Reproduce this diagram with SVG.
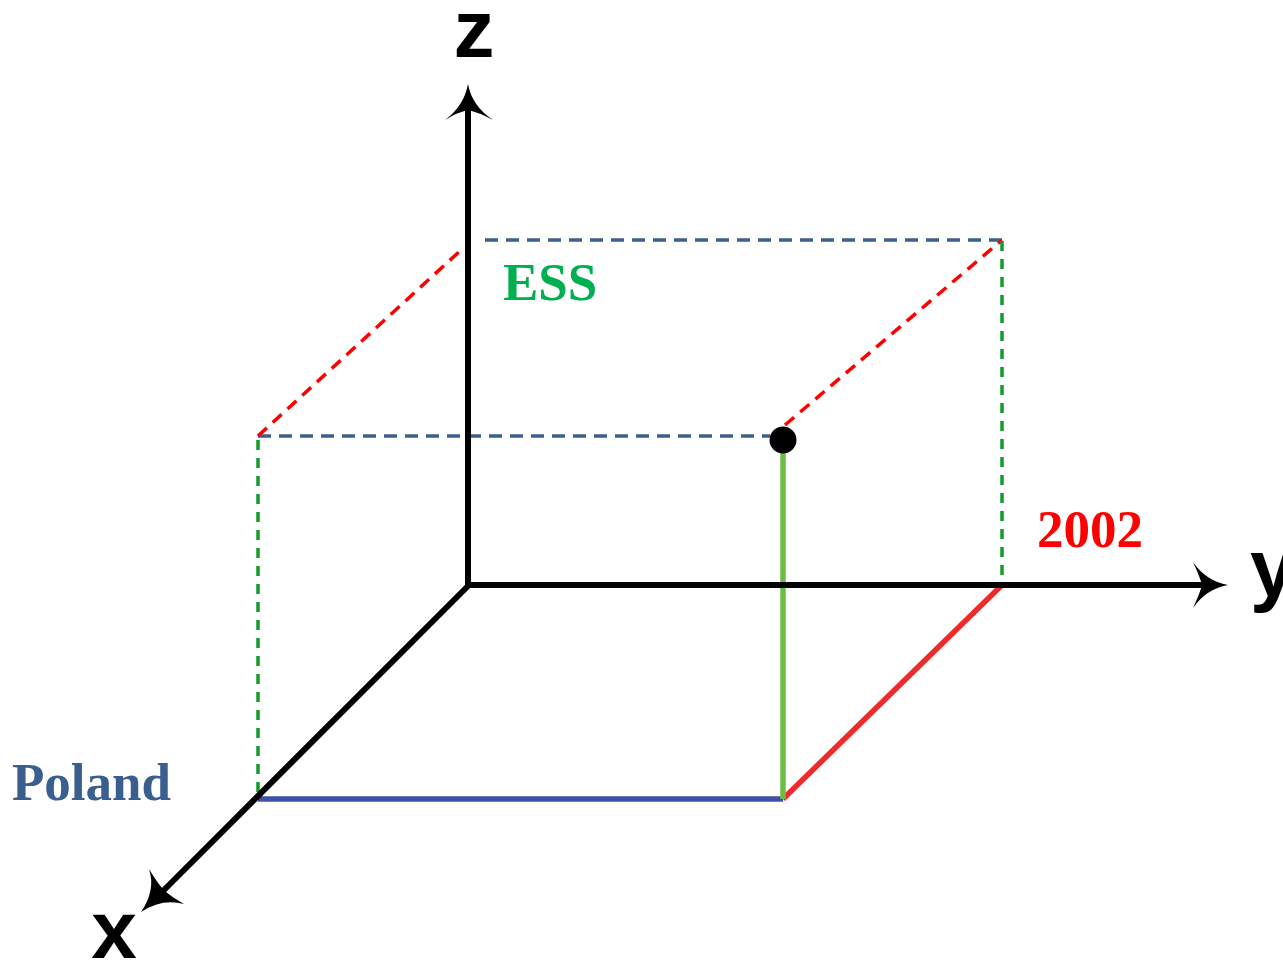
<svg xmlns="http://www.w3.org/2000/svg" width="1283" height="963" viewBox="0 0 1283 963">
<style>
.axis{stroke:#000;stroke-width:6;fill:none}
.ah{fill:#000}
.dblue{stroke:#3d5f8c;stroke-width:3.5;stroke-dasharray:13 8;fill:none}
.dred{stroke:#ff0000;stroke-width:3.5;stroke-dasharray:12 8;fill:none}
.dgreen{stroke:#119c2b;stroke-width:3.5;stroke-dasharray:10 8;fill:none}
.lbl{font-family:"Liberation Sans",Arial,sans-serif;font-weight:bold;font-size:82px;fill:#000}
.val{font-family:"Liberation Serif","Times New Roman",serif;font-weight:bold;font-size:53px}
</style>
<rect width="1283" height="963" fill="#fff"/>
<g id="connectors">
<line class="dblue" x1="485" y1="240" x2="1002" y2="240"/>
<line class="dblue" x1="258" y1="436" x2="770" y2="436"/>
<line class="dred" x1="258" y1="436" x2="460" y2="251"/>
<line class="dred" x1="785" y1="425" x2="1002" y2="240"/>
<line class="dgreen" x1="258" y1="440" x2="258" y2="797"/>
<line class="dgreen" x1="1002" y1="241" x2="1002" y2="584"/>
<line stroke="#3f51a6" stroke-width="5.5" x1="258" y1="799" x2="783" y2="799"/>
<line stroke="#ee2a2a" stroke-width="5.5" x1="783" y1="799" x2="1001" y2="586"/>
<line stroke="#6cbd45" stroke-width="5.5" x1="783" y1="452" x2="783" y2="799"/>
</g>
<g id="axis-z">
<line class="axis" x1="468" y1="588" x2="468" y2="100"/>
<path class="ah" d="M468,84 Q472,106 493,120 Q478,112 468,110 Q458,112 445,120 Q464,106 468,84 Z"/>
<text class="lbl" x="474" y="57" text-anchor="middle">z</text>
</g>
<g id="axis-y">
<line class="axis" x1="465" y1="585" x2="1212" y2="585"/>
<path class="ah" d="M1228,585 Q1206,589 1193,608 Q1200,593 1202,585 Q1200,577 1193,562 Q1206,581 1228,585 Z"/>
<text class="lbl" x="1250" y="596">y</text>
</g>
<g id="axis-x">
<line class="axis" x1="470" y1="584" x2="156" y2="898"/>
<path class="ah" d="M141,912 Q156,890 149,869 Q158,884 164,890 Q170,896 184,904 Q162,898 141,912 Z"/>
<text class="lbl" x="114" y="958" text-anchor="middle">x</text>
</g>
<g id="point">
<circle cx="783" cy="440" r="13.5" fill="#000"/>
</g>
<g id="label-ess">
<text class="val" x="503" y="300" fill="#00b050">ESS</text>
</g>
<g id="label-2002">
<text class="val" x="1037" y="547" fill="#ff0000">2002</text>
</g>
<g id="label-poland">
<text class="val" x="12" y="800" fill="#3a5f8f">Poland</text>
</g>
</svg>
